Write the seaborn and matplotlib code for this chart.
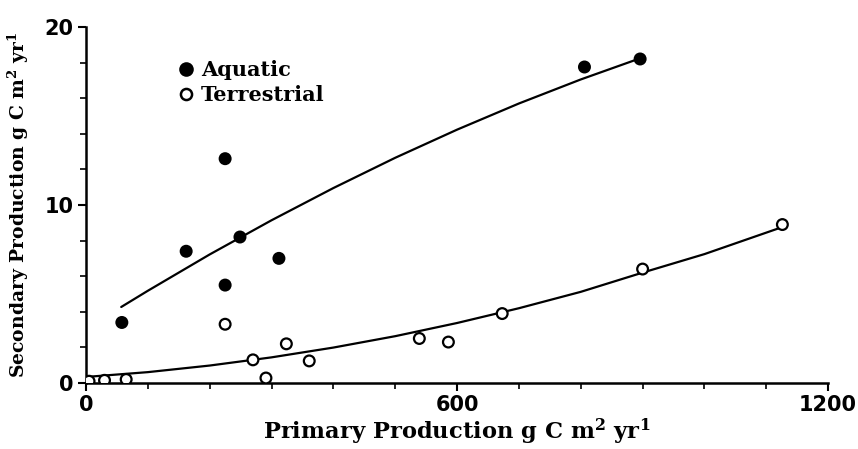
import matplotlib
matplotlib.use("Agg")
import matplotlib.pyplot as plt
import seaborn as sns
import pandas as pd
import numpy as np
from matplotlib.lines import Line2D

# Data
aquatic_x = [58, 162, 225, 225, 249, 312, 806, 896]
aquatic_y = [3.4, 7.4, 12.6, 5.5, 8.2, 7.0, 17.75, 18.2]

terrestrial_x = [5, 30, 65, 225, 270, 291, 324, 361, 539, 586, 673, 900, 1126]
terrestrial_y = [0.1, 0.15, 0.2, 3.3, 1.3, 0.28, 2.2, 1.24, 2.5, 2.3, 3.9, 6.4, 8.9]

# fitted curves
aquatic_fit_x = [57, 100, 200, 300, 400, 500, 600, 700, 800, 901]
aquatic_fit_y = [4.27, 5.18, 7.22, 9.14, 10.95, 12.65, 14.23, 15.70, 17.05, 18.3]

terrestrial_fit_x = [0, 100, 200, 300, 400, 500, 600, 700, 800, 900, 1000, 1126]
terrestrial_fit_y = [0.34, 0.61, 0.98, 1.44, 1.99, 2.63, 3.37, 4.20, 5.12, 6.2, 7.24, 8.76]

x_major = [0, 600, 1200]
y_major = [0, 10, 20]

sns.set_style("ticks")
plt.rcParams['font.family'] = ['DejaVu Serif']
plt.rcParams['mathtext.default'] = 'regular'
for k in ['text.color', 'axes.labelcolor', 'xtick.color', 'ytick.color', 'axes.edgecolor']:
    plt.rcParams[k] = 'black'

pts = pd.concat([
    pd.DataFrame({"x": aquatic_x, "y": aquatic_y, "type": "Aquatic"}),
    pd.DataFrame({"x": terrestrial_x, "y": terrestrial_y, "type": "Terrestrial"}),
])
fits = pd.concat([
    pd.DataFrame({"x": aquatic_fit_x, "y": aquatic_fit_y, "type": "Aquatic"}),
    pd.DataFrame({"x": terrestrial_fit_x, "y": terrestrial_fit_y, "type": "Terrestrial"}),
])

fig = plt.figure(figsize=(8.58, 4.49), dpi=100)
ax = fig.add_axes([0.1002, 0.147, 0.865, 0.793])

sns.lineplot(data=fits, x="x", y="y", units="type", estimator=None, color="black",
             linewidth=1.6, ax=ax, legend=False, sort=True)
sns.scatterplot(data=pts, x="x", y="y", hue="type",
                palette={"Aquatic": "black", "Terrestrial": "white"},
                edgecolor="black", linewidth=1.6, s=60, ax=ax, zorder=3, legend=False)

ax.set_xlim(0, 1200)
ax.set_ylim(0, 20)
ax.set_xticks(x_major)
ax.set_xticks(np.arange(0, 1201, 100), minor=True)
ax.set_yticks(y_major)
ax.set_yticks(np.arange(0, 21, 2), minor=True)
ax.tick_params(axis="both", which="major", length=6, width=1.5, labelsize=15, pad=3,
               colors="black")
ax.tick_params(axis="both", which="minor", length=4, width=1.2, colors="black")
for lab in ax.get_xticklabels() + ax.get_yticklabels():
    lab.set_family(['DejaVu Sans'])
    lab.set_fontweight('bold')
for s in ["top", "right"]:
    ax.spines[s].set_visible(False)
for s in ["left", "bottom"]:
    ax.spines[s].set_linewidth(1.8)
    ax.spines[s].set_color("black")

ax.set_xlabel("Primary Production g C m$^2$ yr$^1$", fontsize=16.3, fontweight="bold",
              labelpad=1, color="black")
ax.set_ylabel("Secondary Production g C m$^2$ yr$^1$", fontsize=13.5, fontweight="bold",
              labelpad=10, color="black")

handles = [
    Line2D([], [], marker="o", linestyle="", markerfacecolor="black", markeredgecolor="black",
           markersize=9, markeredgewidth=1.5, label="Aquatic"),
    Line2D([], [], marker="o", linestyle="", markerfacecolor="white", markeredgecolor="black",
           markersize=8, markeredgewidth=1.8, label="Terrestrial"),
]
ax.legend(handles=handles, loc="upper left", bbox_to_anchor=(0.11, 0.93), frameon=False,
          handletextpad=0.2, labelspacing=0.25, handlelength=1.0, borderaxespad=0,
          prop={"family": "DejaVu Serif", "weight": "bold", "size": 15})

fig.savefig("out.png", dpi=100)
